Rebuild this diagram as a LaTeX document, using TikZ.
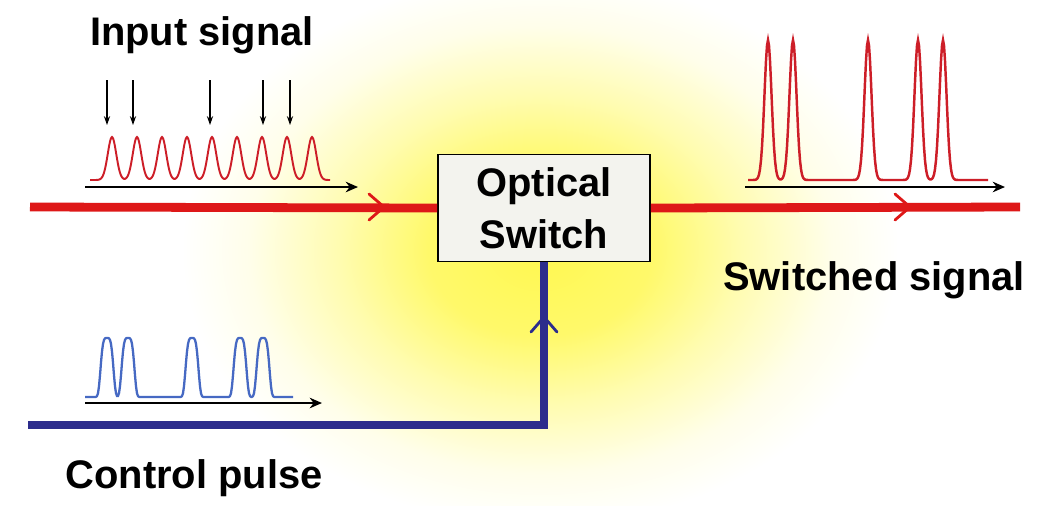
\documentclass[tikz,border=0pt]{standalone}
\usepackage{fontspec}
\setmainfont{Liberation Sans}
\usetikzlibrary{arrows.meta}
\definecolor{sigred}{RGB}{222,24,24}
\definecolor{ctrlblue}{RGB}{44,44,140}
\definecolor{pulseblue}{RGB}{70,105,195}
\definecolor{pulsered}{RGB}{205,30,40}
\definecolor{boxfill}{RGB}{243,243,238}
\definecolor{glowyellow}{RGB}{255,248,80}
\pgfdeclareradialshading{glow}{\pgfpoint{0bp}{0bp}}{color(0bp)=(glowyellow); color(5bp)=(glowyellow!85!white); color(9bp)=(glowyellow!45!white); color(13bp)=(glowyellow!12!white); color(16bp)=(white); color(50bp)=(white)}
\tikzset{
  lbl/.style={font=\fontsize{22.7}{29.5}\selectfont\bfseries},
  redline/.style={sigred, line width=5pt},
  blueline/.style={ctrlblue, line width=5pt},
  timeaxis/.style={black, line width=1.2pt, -{Stealth[length=7pt,width=6pt]}},
  marker/.style={black, line width=0.7pt, -{Stealth[length=5pt,width=3.5pt]}},
  chevron/.pic={\draw[line width=1.6pt, line cap=round] (-15,-13) -- (0,0) -- (-15,13);},
}
\begin{document}
\begin{tikzpicture}[x=0.02cm, y=-0.02cm,
  declare function={gp(\x,\c)=exp(-min(((\x-\c)/6)^2,30));
                    gn(\x,\c)=exp(-min(((\x-\c)/5)^2,30));
                    gf(\x,\c)=exp(-(min(abs(\x-\c)/7,3))^4);}]
  \useasboundingbox (0,0) rectangle (1051,505);
  % yellow glow behind the switch
  \begin{scope}
    \clip (0,0) rectangle (1051,505);
    \shade[shading=glow] (-20,-180) rectangle (1100,680);
  \end{scope}
  % switch and labels
  \node[lbl, draw, line width=1.1pt, fill=boxfill, align=center,
        minimum width=4.24cm, minimum height=2.14cm] (switch) at (544,208) {Optical\\Switch};
  \node[lbl, anchor=base] (insig) at (202,45) {Input signal};
  \node[lbl, anchor=base] (outsig) at (874,290) {Switched signal};
  \node[lbl, anchor=base] (ctrl) at (194,488) {Control pulse};
  \coordinate (redin) at (30,207);
  \coordinate (redout) at (1020,207);
  \coordinate (bluein) at (28,425);
  % signal paths
  \draw[redline] (redin) -- (switch.west);
  \draw[redline] (switch.east) -- (redout);
  \draw[blueline] (bluein) -| (switch.south);
  \pic[sigred] at (384,207) {chevron};
  \pic[sigred] at (910,207) {chevron};
  \pic[ctrlblue, rotate=90] at (544,317) {chevron};
  % input pulse train
  \draw[timeaxis] (85,187) -- (358,187);
  \draw[pulsered, line width=1.1pt] plot[domain=90:330, samples=241]
    (\x, {180-43*(gp(\x,112)+gp(\x,137)+gp(\x,162)+gp(\x,187)+gp(\x,212)
                  +gp(\x,237)+gp(\x,262)+gp(\x,287)+gp(\x,312))});
  \foreach \xm in {107,133,210,263,290}
    \draw[marker] (\xm,80) -- (\xm,125);
  % switched pulses
  \draw[timeaxis] (745,187) -- (1005,187);
  \draw[pulsered, line width=1.4pt] plot[domain=748:988, samples=241]
    (\x, {180-140*(gn(\x,768)+gn(\x,793)+gn(\x,868)+gn(\x,918)+gn(\x,943))});
  % control pulses
  \draw[timeaxis] (85,403) -- (322,403);
  \draw[pulseblue, line width=1.3pt] plot[domain=85:293, samples=209]
    (\x, {397-59*(gf(\x,107)+gf(\x,128)+gf(\x,192)+gf(\x,240)+gf(\x,263))});
\end{tikzpicture}
\end{document}
